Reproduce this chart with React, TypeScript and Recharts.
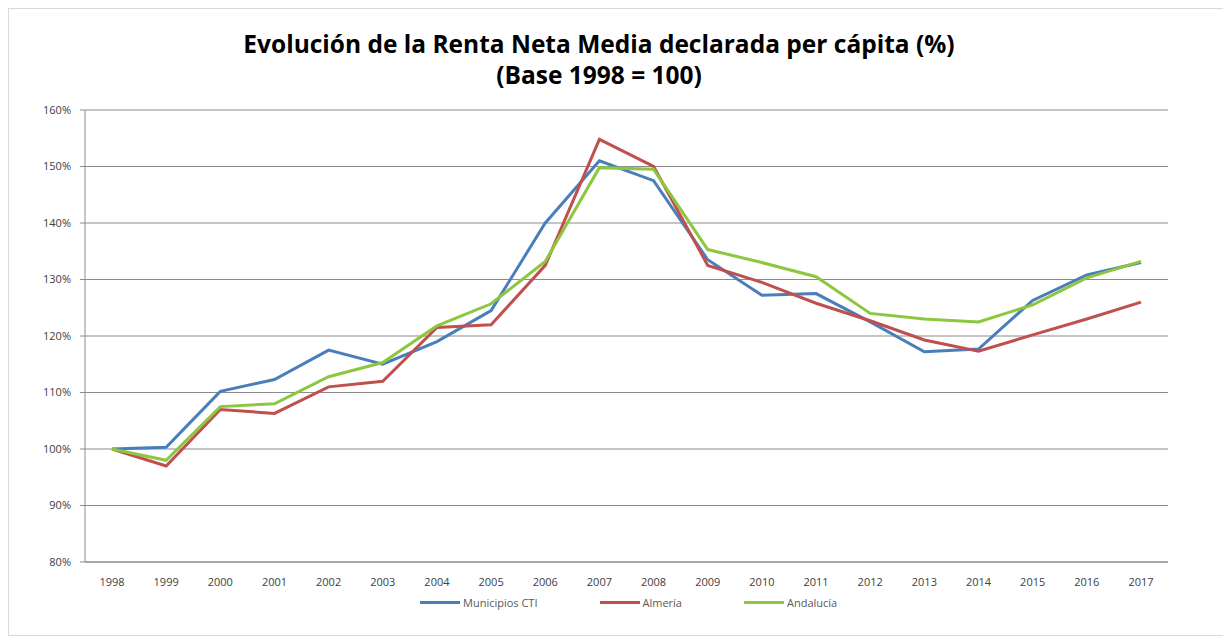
import React from 'react';
import { LineChart, Line, XAxis, YAxis, CartesianGrid, Legend } from 'recharts';

const years = [
  '1998', '1999', '2000', '2001', '2002', '2003', '2004', '2005', '2006', '2007',
  '2008', '2009', '2010', '2011', '2012', '2013', '2014', '2015', '2016', '2017',
];

const municipiosCTI = [
  100, 100.3, 110.2, 112.3, 117.5, 115, 119, 124.5, 140, 151,
  147.5, 133.5, 127.2, 127.5, 122.5, 117.2, 117.7, 126.3, 130.8, 133,
];

const almeria = [
  100, 97, 107, 106.3, 111, 112, 121.5, 122, 132.5, 154.8,
  150, 132.5, 129.5, 125.8, 122.7, 119.3, 117.3, 120.2, 123, 126,
];

const andalucia = [
  100, 98, 107.5, 108, 112.8, 115.3, 121.8, 125.7, 133.2, 149.8,
  149.5, 135.3, 133, 130.5, 124, 123, 122.5, 125.5, 130.3, 133.2,
];

const yTicks = [80, 90, 100, 110, 120, 130, 140, 150, 160];

const series = [
  { key: 'cti', name: 'Municipios CTI', color: '#4A7EBB', values: municipiosCTI },
  { key: 'alm', name: 'Almería', color: '#C0504D', values: almeria },
  { key: 'and', name: 'Andalucía', color: '#8DC63F', values: andalucia },
];

const data = years.map((year, i) => {
  const row: Record<string, string | number> = { year };
  series.forEach((s) => {
    row[s.key] = s.values[i];
  });
  return row;
});

const font = '"Open Sans", "Liberation Sans", Arial, sans-serif';

const LegendContent = () => (
  <div style={{ display: 'flex', justifyContent: 'flex-start', paddingLeft: 411, gap: 62, fontFamily: font, fontSize: 11, color: '#595959' }}>
    {series.map((s) => (
      <div key={s.key} style={{ display: 'flex', alignItems: 'center' }}>
        <span style={{ display: 'inline-block', width: 40, height: 3, background: s.color, marginRight: 3 }} />
        <span>{s.name}</span>
      </div>
    ))}
  </div>
);

const App: React.FC = () => {
  return (
    <div
      style={{
        position: 'relative',
        width: 1215,
        height: 626,
        border: '1px solid #D9D9D9',
        background: '#fff',
      }}
    >
      <div
        style={{
          position: 'absolute',
          top: 19,
          left: 0,
          width: 1180,
          textAlign: 'center',
          fontFamily: font,
          fontWeight: 700,
          fontSize: 24.5,
          lineHeight: '31px',
          color: '#000',
        }}
      >
        Evolución de la Renta Neta Media declarada per cápita (%)
        <br />
        (Base 1998 = 100)
      </div>
      <LineChart
        width={1215}
        height={626}
        data={data}
        margin={{ top: 101, right: 56, left: 16, bottom: 28 }}
      >
        <CartesianGrid vertical={false} stroke="#8C8C8C" strokeWidth={1.2} />
        <XAxis
          dataKey="year"
          stroke="#8C8C8C"
          tickLine={false}
          tickMargin={10}
          padding={{ left: 27, right: 27 }}
          tick={{ fontSize: 11, fill: '#404040', fontFamily: font }}
          interval={0}
        />
        <YAxis
          width={60}
          domain={[80, 160]}
          ticks={yTicks}
          stroke="#8C8C8C"
          tickSize={5}
          tickMargin={9}
          tickFormatter={(v) => `${v}%`}
          tick={{ fontSize: 11, fill: '#404040', fontFamily: font }}
        />
        <Legend
          verticalAlign="bottom"
          content={<LegendContent />}
          wrapperStyle={{ bottom: 25, left: 0, width: 1215 }}
        />
        {series.map((s) => (
          <Line
            key={s.key}
            type="linear"
            dataKey={s.key}
            name={s.name}
            stroke={s.color}
            strokeWidth={3}
            dot={false}
            isAnimationActive={false}
          />
        ))}
      </LineChart>
    </div>
  );
};

export default App;
